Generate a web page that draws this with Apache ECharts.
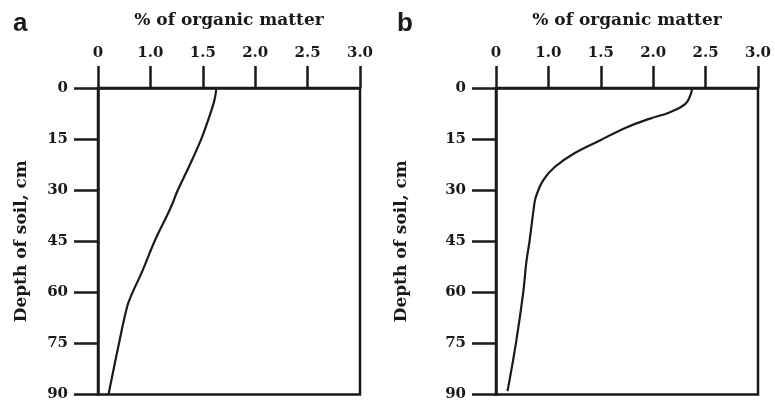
<!DOCTYPE html>
<html>
<head>
<meta charset="utf-8">
<style>
    html, body { margin: 0; padding: 0; background: #fff; }
    #main { width: 775px; height: 402px; }
</style>
</head>
<body>
<div id="main"></div>
<script src="https://cdn.jsdelivr.net/npm/echarts@6/dist/echarts.min.js"></script>
<script type="text/javascript">
    // tick labels as printed on the original (0 sits where 0.5 would be)
    var xTickLabels = ['0', '1.0', '1.5', '2.0', '2.5', '3.0'];
    var depthTicks = [0, 15, 30, 45, 60, 75, 90];

    // panel a: depth (cm) vs % organic matter
    var depthA = [0, 3.7, 9.5, 15.4, 22.3, 30.1, 35.4, 45, 54, 60, 64, 75, 90];
    var omA    = [1.63, 1.61, 1.55, 1.48, 1.38, 1.26, 1.19, 1.04, 0.92, 0.83, 0.78, 0.70, 0.60];

    // panel b
    var depthB = [0, 1.7, 4.6, 7.1, 9.0, 11.5, 15.4, 19.3, 23.2, 27.1, 32, 35.4, 45, 51, 60, 75, 89];
    var omB    = [2.37, 2.36, 2.31, 2.16, 1.97, 1.75, 1.49, 1.24, 1.06, 0.95, 0.88, 0.86, 0.82, 0.79, 0.76, 0.69, 0.61];

    function pairs(xs, ys) {
        return xs.map(function (x, i) { return [x, ys[i]]; });
    }

    var serif = 'DejaVu Serif';
    var ink = '#1a1a1a';

    function xAxisFor(gridIndex) {
        return {
            gridIndex: gridIndex,
            type: 'value',
            position: 'top',
            min: 0.5,
            max: 3.0,
            interval: 0.5,
            name: '% of organic matter',
            nameLocation: 'middle',
            nameGap: 59,
            nameTextStyle: { fontFamily: serif, fontWeight: 'bold', fontSize: 17, color: ink },
            axisLine: { show: true, lineStyle: { color: ink, width: 2.5 } },
            axisTick: { show: true, length: 22, lineStyle: { color: ink, width: 2.5 } },
            axisLabel: {
                margin: 27,
                fontFamily: serif, fontWeight: 'bold', fontSize: 15, color: ink,
                formatter: function (v) { return xTickLabels[Math.round((v - 0.5) / 0.5)]; }
            },
            splitLine: { show: false }
        };
    }

    function yAxisFor(gridIndex, gap) {
        return {
            gridIndex: gridIndex,
            type: 'value',
            inverse: true,
            min: depthTicks[0],
            max: depthTicks[depthTicks.length - 1],
            interval: 15,
            name: 'Depth of soil, cm',
            nameLocation: 'middle',
            nameGap: gap,
            nameRotate: 90,
            nameTextStyle: { fontFamily: serif, fontWeight: 'bold', fontSize: 17, color: ink },
            axisLine: { show: true, lineStyle: { color: ink, width: 2.5 } },
            axisTick: { show: true, length: 24, lineStyle: { color: ink, width: 2.5 } },
            axisLabel: { margin: 30, fontFamily: serif, fontWeight: 'bold', fontSize: 15, color: ink },
            splitLine: { show: false }
        };
    }

    var myChart = echarts.init(document.getElementById('main'));

    var option = {
        animation: false,
        backgroundColor: '#fff',
        title: [
            { text: 'a', left: 8, top: 6, textStyle: { fontFamily: 'Liberation Sans', fontWeight: 'bold', fontSize: 26, color: ink } },
            { text: 'b', left: 392, top: 6, textStyle: { fontFamily: 'Liberation Sans', fontWeight: 'bold', fontSize: 26, color: ink } }
        ],
        grid: [
            { left: 98, right: 415, top: 88, bottom: 7, show: true, borderColor: ink, borderWidth: 2.5, backgroundColor: 'transparent' },
            { left: 496, right: 17, top: 88, bottom: 7, show: true, borderColor: ink, borderWidth: 2.5, backgroundColor: 'transparent' }
        ],
        xAxis: [xAxisFor(0), xAxisFor(1)],
        yAxis: [yAxisFor(0, 68), yAxisFor(1, 86)],
        series: [
            {
                type: 'line',
                xAxisIndex: 0,
                yAxisIndex: 0,
                data: pairs(omA, depthA),
                smooth: 0.4,
                showSymbol: false,
                lineStyle: { color: ink, width: 2.2 }
            },
            {
                type: 'line',
                xAxisIndex: 1,
                yAxisIndex: 1,
                data: pairs(omB, depthB),
                smooth: 0.4,
                showSymbol: false,
                lineStyle: { color: ink, width: 2.2 }
            }
        ]
    };

    myChart.setOption(option);
</script>
</body>
</html>
